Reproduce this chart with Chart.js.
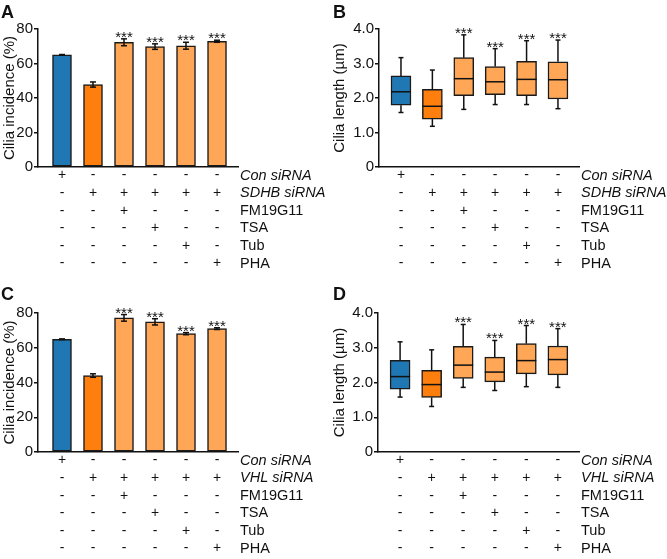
<!DOCTYPE html>
<html>
<head>
<meta charset="utf-8">
<script src="https://cdn.jsdelivr.net/npm/chart.js@4.4.0/dist/chart.umd.min.js"></script>
<style>
  body { margin: 0; background: #fff; width: 667px; height: 559px; position: relative; overflow: hidden; }
  canvas { position: absolute; }
</style>
</head>
<body>
<canvas id="panelA" width="330" height="280" style="left:0;top:0"></canvas>
<canvas id="panelB" width="337" height="280" style="left:330px;top:0"></canvas>
<canvas id="panelC" width="330" height="279" style="left:0;top:280px"></canvas>
<canvas id="panelD" width="337" height="279" style="left:330px;top:280px"></canvas>
<script>
// conditions, in order left to right
const groups = [0, 1, 2, 3, 4, 5];
const groupColors = ["#1f77b4", "#ff7f0e", "#ffa756", "#ffa756", "#ffa756", "#ffa756"];
const starLabels = ["", "", "***", "***", "***", "***"];

const rowNamesSDHB = ["Con siRNA", "SDHB siRNA", "FM19G11", "TSA", "Tub", "PHA"];
const rowNamesVHL = ["Con siRNA", "VHL siRNA", "FM19G11", "TSA", "Tub", "PHA"];
const treatmentRows = [
    ["+", "-", "-", "-", "-", "-"],
    ["-", "+", "+", "+", "+", "+"],
    ["-", "-", "+", "-", "-", "-"],
    ["-", "-", "-", "+", "-", "-"],
    ["-", "-", "-", "-", "+", "-"],
    ["-", "-", "-", "-", "-", "+"],
];

// A: cilia incidence (%), SDHB
const incidenceSDHB = [65.0, 47.8, 72.3, 69.8, 70.3, 72.9];
const incidenceSDHBErr = [0.2, 1.5, 2.0, 1.6, 2.0, 0.6];
// C: cilia incidence (%), VHL
const incidenceVHL = [64.9, 44.0, 77.2, 74.9, 68.1, 71.0];
const incidenceVHLErr = [0.2, 1.0, 1.9, 1.8, 0.6, 0.5];

// B: cilia length (um), SDHB
const lengthSDHBMin = [1.58, 1.18, 1.67, 1.81, 1.81, 1.69];
const lengthSDHBQ1 = [1.79, 1.39, 2.07, 2.10, 2.07, 1.97];
const lengthSDHBMed = [2.18, 1.76, 2.56, 2.47, 2.54, 2.53];
const lengthSDHBQ3 = [2.64, 2.25, 3.17, 2.91, 3.06, 3.05];
const lengthSDHBMax = [3.17, 2.81, 3.83, 3.43, 3.66, 3.68];
// D: cilia length (um), VHL
const lengthVHLMin = [1.58, 1.31, 1.86, 1.77, 1.88, 1.86];
const lengthVHLQ1 = [1.81, 1.57, 2.12, 2.02, 2.25, 2.22];
const lengthVHLMed = [2.17, 1.94, 2.50, 2.30, 2.63, 2.66];
const lengthVHLQ3 = [2.64, 2.35, 3.04, 2.73, 3.12, 3.05];
const lengthVHLMax = [3.17, 2.94, 3.67, 3.21, 3.64, 3.55];

const FONT = "'Liberation Sans', Arial, sans-serif";
const INK = "#111";

// error bars / whiskers, stars, treatment table and panel letter
const decor = {
    id: "decor",
    afterDatasetsDraw(chart, args, o) {
        const ctx = chart.ctx;
        const ys = chart.scales.y;
        const meta = chart.getDatasetMeta(0);
        ctx.save();
        ctx.strokeStyle = INK;
        ctx.lineWidth = 1.5;
        const seg = (x1, y1, x2, y2) => {
            ctx.beginPath();
            ctx.moveTo(x1, y1);
            ctx.lineTo(x2, y2);
            ctx.stroke();
        };
        meta.data.forEach((bar, i) => {
            const x = bar.x;
            let top;
            if (o.err) {
                const hi = ys.getPixelForValue(o.values[i] + o.err[i]);
                const lo = ys.getPixelForValue(o.values[i] - o.err[i]);
                seg(x, lo, x, hi);
                seg(x - 3, hi, x + 3, hi);
                seg(x - 3, lo, x + 3, lo);
                top = hi;
            } else if (o.box) {
                const b = o.box;
                const pMax = ys.getPixelForValue(b.max[i]);
                const pMin = ys.getPixelForValue(b.min[i]);
                const pQ1 = ys.getPixelForValue(b.q1[i]);
                const pQ3 = ys.getPixelForValue(b.q3[i]);
                const pMed = ys.getPixelForValue(b.med[i]);
                seg(x, pQ3, x, pMax);
                seg(x, pQ1, x, pMin);
                seg(x - 2.5, pMax, x + 2.5, pMax);
                seg(x - 2.5, pMin, x + 2.5, pMin);
                const hw = bar.width / 2;
                seg(x - hw, pMed, x + hw, pMed);
                top = pMax;
            }
            if (o.stars[i]) {
                ctx.fillStyle = INK;
                ctx.font = "15px " + FONT;
                ctx.textAlign = "center";
                ctx.textBaseline = "alphabetic";
                ctx.fillText(o.stars[i], x, top + 3);
            }
        });
        ctx.restore();
    },
    afterDraw(chart, args, o) {
        const ctx = chart.ctx;
        const xs = chart.scales.x;
        const area = chart.chartArea;
        ctx.save();
        ctx.fillStyle = INK;
        ctx.textBaseline = "middle";
        o.rows.forEach((row, r) => {
            const y = area.bottom + 8.5 + r * 17.6;
            ctx.font = "14px " + FONT;
            ctx.textAlign = "center";
            row.forEach((s, i) => ctx.fillText(s, xs.getPixelForValue(groups[i]), y));
            ctx.textAlign = "left";
            ctx.font = (r < 2 ? "italic " : "") + "14.5px " + FONT;
            ctx.fillText(o.rowNames[r], area.right + 2, y);
        });
        ctx.font = "bold 18px " + FONT;
        ctx.textAlign = "left";
        ctx.textBaseline = "alphabetic";
        ctx.fillText(o.letter, o.letterX, o.letterY);
        ctx.restore();
    },
};

function makePanel(id, p) {
    const canvas = document.getElementById(id);
    const W = canvas.width, H = canvas.height;
    return new Chart(canvas, {
        type: "bar",
        data: {
            datasets: [{
                data: groups.map((g, i) => ({ x: g, y: p.bars[i] })),
                backgroundColor: groupColors,
                borderColor: "#1a1a1a",
                borderWidth: 1.5,
                borderSkipped: false,
                barThickness: p.barWidth,
            }],
        },
        options: {
            responsive: false,
            animation: false,
            layout: { padding: { left: 0, top: p.top, right: W - p.right, bottom: 0 } },
            scales: {
                x: {
                    type: "linear",
                    offset: false,
                    min: p.xMin,
                    max: p.xMax,
                    ticks: { display: false },
                    grid: { display: true, offset: false, drawOnChartArea: false, drawTicks: false },
                    border: { color: INK, width: 1.5 },
                    afterFit(s) { s.height = H - p.bottom; },
                },
                y: {
                    min: 0,
                    max: p.yMax,
                    ticks: {
                        stepSize: p.yStep,
                        color: INK,
                        padding: 1,
                        font: { size: 15, family: FONT },
                        callback: p.tickFmt,
                    },
                    grid: { drawOnChartArea: false, tickLength: 4, color: INK, lineWidth: 1.5 },
                    border: { color: INK, width: 1.5 },
                    title: {
                        display: true,
                        text: p.yTitle,
                        color: INK,
                        padding: { top: 1, bottom: 0 },
                        font: { size: 15, family: FONT },
                    },
                    afterFit(s) { s.width = p.left; },
                },
            },
            plugins: {
                legend: { display: false },
                tooltip: { enabled: false },
                decor: {
                    values: p.values,
                    err: p.err,
                    box: p.box,
                    stars: starLabels,
                    rows: treatmentRows,
                    rowNames: p.rowNames,
                    letter: p.letter,
                    letterX: p.letterX,
                    letterY: p.letterY,
                },
            },
        },
        plugins: [decor],
    });
}

const pctTick = (v) => v;
const lenTick = (v) => (v === 0 ? "0" : v.toFixed(1));

makePanel("panelA", {
    bars: incidenceSDHB, values: incidenceSDHB, err: incidenceSDHBErr, barWidth: 19,
    left: 38, right: 238, top: 29, bottom: 167, xMin: -0.774, xMax: 5.677,
    yMax: 80, yStep: 20, tickFmt: pctTick, yTitle: "Cilia incidence (%)",
    rowNames: rowNamesSDHB, letter: "A", letterX: 1, letterY: 18,
});
makePanel("panelB", {
    bars: groups.map((g, i) => [lengthSDHBQ1[i], lengthSDHBQ3[i]]), barWidth: 20,
    box: { min: lengthSDHBMin, q1: lengthSDHBQ1, med: lengthSDHBMed, q3: lengthSDHBQ3, max: lengthSDHBMax },
    left: 49, right: 249, top: 29, bottom: 167, xMin: -0.70, xMax: 5.67,
    yMax: 4, yStep: 1, tickFmt: lenTick, yTitle: "Cilia length (\u00b5m)",
    rowNames: rowNamesSDHB, letter: "B", letterX: 3, letterY: 18,
});
makePanel("panelC", {
    bars: incidenceVHL, values: incidenceVHL, err: incidenceVHLErr, barWidth: 19,
    left: 38, right: 238, top: 33, bottom: 172, xMin: -0.774, xMax: 5.677,
    yMax: 80, yStep: 20, tickFmt: pctTick, yTitle: "Cilia incidence (%)",
    rowNames: rowNamesVHL, letter: "C", letterX: 1, letterY: 20,
});
makePanel("panelD", {
    bars: groups.map((g, i) => [lengthVHLQ1[i], lengthVHLQ3[i]]), barWidth: 20,
    box: { min: lengthVHLMin, q1: lengthVHLQ1, med: lengthVHLMed, q3: lengthVHLQ3, max: lengthVHLMax },
    left: 48, right: 249, top: 33, bottom: 172, xMin: -0.70, xMax: 5.67,
    yMax: 4, yStep: 1, tickFmt: lenTick, yTitle: "Cilia length (\u00b5m)",
    rowNames: rowNamesVHL, letter: "D", letterX: 3, letterY: 20,
});
</script>
</body>
</html>
